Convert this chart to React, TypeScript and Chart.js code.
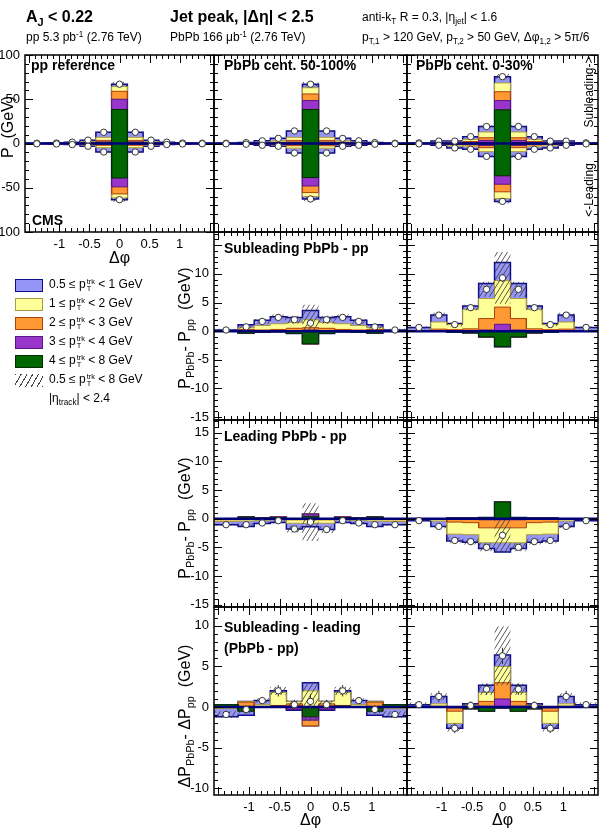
import React, { useEffect, useRef } from 'react';
import { Chart, registerables } from 'chart.js';
Chart.register(...registerables);

const FONT = '"Liberation Sans", Arial, Helvetica, sans-serif';

// Δφ binning (bin edges and centres)
const BIN_EDGES = [-1.5708, -1.1781, -0.9163, -0.6545, -0.3927, -0.1309, 0.1309, 0.3927, 0.6545, 0.9163, 1.1781, 1.5708];
const BIN_CENTERS = [-1.3744, -1.0472, -0.7854, -0.5236, -0.2618, 0, 0.2618, 0.5236, 0.7854, 1.0472, 1.3744];

const X_TICK_LABELS = [-1, -0.5, 0, 0.5, 1];
const Y_TICKS_TOP = [-100, -50, 0, 50, 100];
const Y_TICKS_SUB = [-15, -10, -5, 0, 5, 10];
const Y_TICKS_LEAD = [-15, -10, -5, 0, 5, 10, 15];
const Y_TICKS_DIFF = [-10, -5, 0, 5, 10];

// classes: 0.5-1, 1-2, 2-3, 3-4, 4-8 GeV
const CLASS_FILL = ['#9595f6', '#ffff99', '#ff9933', '#9a35cc', '#006600'];
const CLASS_LINE = ['#0c0c8c', '#a89a40', '#a8420c', '#561684', '#002c00'];

// ---- pp reference ----
const PP_SUB_05 = [0.2, 0.3, 0.8, 1.8, 5.7, 2.5, 5.7, 1.8, 0.8, 0.3, 0.2];
const PP_SUB_1 = [0.1, 0.1, 0.4, 1.0, 3.5, 5.5, 3.5, 1.0, 0.4, 0.1, 0.1];
const PP_SUB_2 = [0, 0.1, 0.2, 0.5, 1.7, 9, 1.7, 0.5, 0.2, 0.1, 0];
const PP_SUB_3 = [0, 0, 0.1, 0.3, 1.0, 11.5, 1.0, 0.3, 0.1, 0, 0];
const PP_SUB_4 = [0, 0, 0, 0.2, 0.8, 38.5, 0.8, 0.2, 0, 0, 0];
const PP_LEAD_05 = [-0.2, -0.3, -0.6, -1.4, -4.8, -2, -4.8, -1.4, -0.6, -0.3, -0.2];
const PP_LEAD_1 = [-0.1, -0.1, -0.3, -0.8, -2.8, -4.5, -2.8, -0.8, -0.3, -0.1, -0.1];
const PP_LEAD_2 = [0, -0.1, -0.2, -0.5, -1.2, -8, -1.2, -0.5, -0.2, -0.1, 0];
const PP_LEAD_3 = [0, 0, -0.1, -0.2, -0.5, -10, -0.5, -0.2, -0.1, 0, 0];
const PP_LEAD_4 = [0, 0, 0, -0.2, -0.3, -39, -0.3, -0.2, 0, 0, 0];
const PP_SUB_SYS = [0.1, 0.2, 0.3, 0.5, 1.0, 2.5, 1.0, 0.5, 0.3, 0.2, 0.1];
const PP_LEAD_SYS = [0.1, 0.2, 0.3, 0.5, 0.9, 2.2, 0.9, 0.5, 0.3, 0.2, 0.1];

// ---- PbPb 50-100% ----
const C50_SUB_05 = [0.2, 0.6, 1.6, 2.8, 7.2, 4, 7.2, 2.8, 1.6, 0.6, 0.2];
const C50_SUB_1 = [0.1, 0.3, 0.8, 1.6, 3.5, 7, 3.5, 1.6, 0.8, 0.3, 0.1];
const C50_SUB_2 = [0, 0.1, 0.4, 0.8, 2.0, 7.5, 2.0, 0.8, 0.4, 0.1, 0];
const C50_SUB_3 = [0, 0, 0.2, 0.4, 1.0, 10, 1.0, 0.4, 0.2, 0, 0];
const C50_SUB_4 = [0, 0, 0, 0.2, 0.5, 38.5, 0.5, 0.2, 0, 0, 0];
const C50_LEAD_05 = [-0.2, -0.5, -1.1, -1.5, -5.5, -2.7, -5.5, -1.5, -1.1, -0.5, -0.2];
const C50_LEAD_1 = [-0.1, -0.2, -0.5, -0.8, -2.8, -4.5, -2.8, -0.8, -0.5, -0.2, -0.1];
const C50_LEAD_2 = [0, -0.1, -0.3, -0.4, -1.5, -7.5, -1.5, -0.4, -0.3, -0.1, 0];
const C50_LEAD_3 = [0, 0, -0.1, -0.2, -0.7, -9.5, -0.7, -0.2, -0.1, 0, 0];
const C50_LEAD_4 = [0, 0, 0, -0.2, -0.3, -38.5, -0.3, -0.2, 0, 0, 0];
const C50_SUB_SYS = [0.1, 0.2, 0.3, 0.5, 1.0, 2.5, 1.0, 0.5, 0.3, 0.2, 0.1];
const C50_LEAD_SYS = [0.1, 0.2, 0.3, 0.5, 0.9, 2.2, 0.9, 0.5, 0.3, 0.2, 0.1];

// ---- PbPb 0-30% ----
const C0_SUB_05 = [0.4, 1.3, 1.2, 3.0, 6.2, 7, 6.2, 3.0, 1.2, 1.3, 0.4];
const C0_SUB_1 = [0.2, 0.9, 0.9, 2.5, 6.5, 10, 6.5, 2.5, 0.9, 0.9, 0.2];
const C0_SUB_2 = [0.1, 0.3, 0.4, 1.2, 3.0, 10, 3.0, 1.2, 0.4, 0.3, 0.1];
const C0_SUB_3 = [0, 0.1, 0.1, 0.7, 2.5, 10.5, 2.5, 0.7, 0.1, 0.1, 0];
const C0_SUB_4 = [0, 0.1, 0.1, 0.3, 1.0, 38, 1.0, 0.3, 0.1, 0.1, 0];
const C0_LEAD_05 = [-0.3, -1.0, -2.3, -2.7, -5.4, -3.1, -5.4, -2.7, -2.3, -1.0, -0.3];
const C0_LEAD_1 = [-0.1, -0.6, -1.6, -2.0, -4.5, -7.7, -4.5, -2.0, -1.6, -0.6, -0.1];
const C0_LEAD_2 = [0, -0.3, -0.7, -1.0, -2.5, -8.6, -2.5, -1.0, -0.7, -0.3, 0];
const C0_LEAD_3 = [0, -0.1, -0.3, -0.5, -1.5, -9.5, -1.5, -0.5, -0.3, -0.1, 0];
const C0_LEAD_4 = [0, 0, -0.1, -0.3, -0.7, -36.5, -0.7, -0.3, -0.1, 0, 0];
const C0_SUB_SYS = [0.1, 0.3, 0.3, 0.6, 1.2, 3.0, 1.2, 0.6, 0.3, 0.3, 0.1];
const C0_LEAD_SYS = [0.1, 0.2, 0.3, 0.5, 1.0, 2.5, 1.0, 0.5, 0.3, 0.2, 0.1];

// ---- Subleading PbPb - pp ----
const DS50_05 = [0.15, 0.5, 0.9, 1.2, 0.9, 1.6, 0.9, 1.2, 0.9, 0.5, 0.15];
const DS50_1 = [0.05, 0.3, 0.8, 1.0, 1.0, 1.4, 1.0, 1.0, 0.8, 0.3, 0.05];
const DS50_2 = [0, 0.3, 0.2, 0.2, 0.4, 0.4, 0.4, 0.2, 0.2, 0.3, 0];
const DS50_3 = [0, 0, 0, 0.1, 0.1, 0.2, 0.1, 0.1, 0, 0, 0];
const DS50_4 = [0, -0.35, -0.2, -0.1, -0.4, -2.2, -0.4, -0.1, -0.2, -0.35, 0];
const DS50_SYS = [0.2, 0.3, 0.4, 0.5, 0.7, 3.2, 0.7, 0.5, 0.4, 0.3, 0.2];
const DS50_ERR = [0.15, 0.25, 0.3, 0.3, 0.35, 0.5, 0.35, 0.3, 0.3, 0.25, 0.15];

const DS0_05 = [0.5, 1.2, 0.2, 0.6, 2.6, 3.2, 2.6, 0.6, 0.2, 1.2, 0.5];
const DS0_1 = [0.15, 1.25, 0.9, 3.4, 3.5, 4.6, 3.5, 3.4, 0.9, 1.25, 0.15];
const DS0_2 = [0, 0.25, 0.2, 0.3, 2.0, 3.0, 2.0, 0.3, 0.2, 0.25, 0];
const DS0_3 = [0, 0.1, 0.05, 0.1, 0.2, 1.2, 0.2, 0.1, 0.05, 0.1, 0];
const DS0_4 = [0, 0, -0.2, -0.3, -1.0, -2.7, -1.0, -0.3, -0.2, 0, 0];
const DS0_SYS = [0.2, 0.4, 0.3, 0.5, 1.3, 4.5, 1.3, 0.5, 0.3, 0.4, 0.2];
const DS0_ERR = [0.2, 0.35, 0.35, 0.4, 0.5, 0.7, 0.5, 0.4, 0.35, 0.35, 0.2];

// ---- Leading PbPb - pp ----
const DL50_05 = [-0.55, -0.95, -0.55, -0.45, -1.0, -0.6, -1.1, -0.45, -0.55, -0.95, -0.55];
const DL50_1 = [-0.3, -0.4, -0.2, -0.2, -0.6, -0.6, -0.6, -0.2, -0.2, -0.4, -0.3];
const DL50_2 = [-0.2, 0, -0.1, 0, -0.1, -0.2, -0.1, 0, -0.1, 0, -0.2];
const DL50_3 = [0, 0, 0, 0.1, -0.1, 0.4, -0.1, 0.1, 0, 0, 0];
const DL50_4 = [0, 0.3, 0.1, 0.2, 0, 0.4, 0, 0.2, 0.1, 0.3, 0];
const DL50_SYS = [0.2, 0.3, 0.2, 0.2, 0.6, 3.3, 0.6, 0.2, 0.2, 0.3, 0.2];
const DL50_ERR = [0.2, 0.25, 0.25, 0.25, 0.35, 0.5, 0.35, 0.25, 0.25, 0.25, 0.2];

const DL0_05 = [-0.25, -0.95, -1.2, -1.3, -1.0, -1.6, -1.0, -1.3, -1.2, -0.95, -0.25];
const DL0_1 = [-0.1, -0.3, -2.1, -2.1, -2.6, -2.6, -2.6, -2.1, -2.1, -0.3, -0.1];
const DL0_2 = [0, -0.1, -0.5, -0.6, -1.4, -1.4, -1.4, -0.6, -0.5, -0.1, 0];
const DL0_3 = [0, 0, -0.1, -0.1, -0.2, -0.2, -0.2, -0.1, -0.1, 0, 0];
const DL0_4 = [0, 0, 0.1, 0.1, 0.2, 2.9, 0.2, 0.1, 0.1, 0, 0];
const DL0_SYS = [0.1, 0.3, 0.5, 0.5, 0.7, 3.0, 0.7, 0.5, 0.5, 0.3, 0.1];
const DL0_ERR = [0.2, 0.3, 0.35, 0.4, 0.45, 0.6, 0.45, 0.4, 0.35, 0.3, 0.2];

// ---- Subleading - leading (PbPb - pp) ----
const DD50_05 = [-1.0, -0.5, 0.5, 0.2, -0.1, 1.0, -0.1, 0.2, 0.5, -0.5, -1.0];
const DD50_1 = [-0.2, 0.1, 0.3, 1.6, 0.3, 2.0, 0.3, 1.6, 0.3, 0.1, -0.2];
const DD50_2 = [0, 0.6, 0, 0.1, 0.3, -0.7, 0.3, 0.1, 0, 0.6, 0];
const DD50_3 = [0, 0, 0, 0, -0.3, -0.4, -0.3, 0, 0, 0, 0];
const DD50_4 = [0.3, -0.5, 0, 0.1, 0.1, -1.2, 0.1, 0.1, 0, -0.5, 0.3];
const DD50_SYS = [0.4, 0.5, 0.3, 0.5, 0.5, 2.4, 0.5, 0.5, 0.3, 0.5, 0.4];
const DD50_ERR = [0.4, 0.5, 0.4, 0.7, 0.6, 0.9, 0.6, 0.7, 0.4, 0.5, 0.4];

const DD0_05 = [0.3, 0.9, -0.6, 0.2, 0.9, 1.4, 0.9, 0.2, -0.6, 0.9, 0.3];
const DD0_1 = [0, 0.3, -1.5, 0.1, 1.1, 2.0, 1.1, 0.1, -1.5, 0.3, 0];
const DD0_2 = [0, 0.1, -0.4, 0.1, 0.6, 2.0, 0.6, 0.1, -0.4, 0.1, 0];
const DD0_3 = [0, 0, -0.1, 0, 0.1, 1.0, 0.1, 0, -0.1, 0, 0];
const DD0_4 = [0, 0, 0, -0.2, -0.5, -0.1, -0.5, -0.2, 0, 0, 0];
const DD0_SYS = [0.3, 0.4, 0.4, 0.3, 0.7, 3.6, 0.7, 0.3, 0.4, 0.4, 0.3];
const DD0_ERR = [0.4, 0.7, 0.6, 0.5, 0.7, 1.0, 0.7, 0.5, 0.6, 0.7, 0.4];

type Series = { classes: number[][]; sys: number[]; err?: number[] };
type Panel = {
  id: string; box: [number, number, number, number]; yMin: number; yMax: number;
  yTicks: number[]; yMajor: number; yMinor: number; showY: boolean; showX: boolean; series: Series[];
};

const ROW_SUB: [number, number] = [232, 420];
const ROW_LEAD: [number, number] = [420, 607];
const ROW_DIFF: [number, number] = [607, 795];
const COL1: [number, number] = [25, 214];
const COL2: [number, number] = [214, 407];
const COL3: [number, number] = [407, 598];

const PANELS: Panel[] = [
  { id: 'pp', box: [COL1[0], 55, COL1[1], 232], yMin: -100, yMax: 100, yTicks: Y_TICKS_TOP, yMajor: 50, yMinor: 10, showY: true, showX: true,
    series: [{ classes: [PP_SUB_05, PP_SUB_1, PP_SUB_2, PP_SUB_3, PP_SUB_4], sys: PP_SUB_SYS },
             { classes: [PP_LEAD_05, PP_LEAD_1, PP_LEAD_2, PP_LEAD_3, PP_LEAD_4], sys: PP_LEAD_SYS }] },
  { id: 'c50', box: [COL2[0], 55, COL2[1], 232], yMin: -100, yMax: 100, yTicks: Y_TICKS_TOP, yMajor: 50, yMinor: 10, showY: false, showX: false,
    series: [{ classes: [C50_SUB_05, C50_SUB_1, C50_SUB_2, C50_SUB_3, C50_SUB_4], sys: C50_SUB_SYS },
             { classes: [C50_LEAD_05, C50_LEAD_1, C50_LEAD_2, C50_LEAD_3, C50_LEAD_4], sys: C50_LEAD_SYS }] },
  { id: 'c0', box: [COL3[0], 55, COL3[1], 232], yMin: -100, yMax: 100, yTicks: Y_TICKS_TOP, yMajor: 50, yMinor: 10, showY: false, showX: false,
    series: [{ classes: [C0_SUB_05, C0_SUB_1, C0_SUB_2, C0_SUB_3, C0_SUB_4], sys: C0_SUB_SYS },
             { classes: [C0_LEAD_05, C0_LEAD_1, C0_LEAD_2, C0_LEAD_3, C0_LEAD_4], sys: C0_LEAD_SYS }] },
  { id: 'ds50', box: [COL2[0], ROW_SUB[0], COL2[1], ROW_SUB[1]], yMin: -15.5, yMax: 17.3, yTicks: Y_TICKS_SUB, yMajor: 5, yMinor: 1, showY: true, showX: false,
    series: [{ classes: [DS50_05, DS50_1, DS50_2, DS50_3, DS50_4], sys: DS50_SYS, err: DS50_ERR }] },
  { id: 'ds0', box: [COL3[0], ROW_SUB[0], COL3[1], ROW_SUB[1]], yMin: -15.5, yMax: 17.3, yTicks: Y_TICKS_SUB, yMajor: 5, yMinor: 1, showY: false, showX: false,
    series: [{ classes: [DS0_05, DS0_1, DS0_2, DS0_3, DS0_4], sys: DS0_SYS, err: DS0_ERR }] },
  { id: 'dl50', box: [COL2[0], ROW_LEAD[0], COL2[1], ROW_LEAD[1]], yMin: -15.4, yMax: 17.2, yTicks: Y_TICKS_LEAD, yMajor: 5, yMinor: 1, showY: true, showX: false,
    series: [{ classes: [DL50_05, DL50_1, DL50_2, DL50_3, DL50_4], sys: DL50_SYS, err: DL50_ERR }] },
  { id: 'dl0', box: [COL3[0], ROW_LEAD[0], COL3[1], ROW_LEAD[1]], yMin: -15.4, yMax: 17.2, yTicks: Y_TICKS_LEAD, yMajor: 5, yMinor: 1, showY: false, showX: false,
    series: [{ classes: [DL0_05, DL0_1, DL0_2, DL0_3, DL0_4], sys: DL0_SYS, err: DL0_ERR }] },
  { id: 'dd50', box: [COL2[0], ROW_DIFF[0], COL2[1], ROW_DIFF[1]], yMin: -10.8, yMax: 12.3, yTicks: Y_TICKS_DIFF, yMajor: 5, yMinor: 1, showY: true, showX: true,
    series: [{ classes: [DD50_05, DD50_1, DD50_2, DD50_3, DD50_4], sys: DD50_SYS, err: DD50_ERR }] },
  { id: 'dd0', box: [COL3[0], ROW_DIFF[0], COL3[1], ROW_DIFF[1]], yMin: -10.8, yMax: 12.3, yTicks: Y_TICKS_DIFF, yMajor: 5, yMinor: 1, showY: false, showX: true,
    series: [{ classes: [DD0_05, DD0_1, DD0_2, DD0_3, DD0_4], sys: DD0_SYS, err: DD0_ERR }] },
];

const W = 609, H = 830;
const Y_AXIS_W = { pp: 25, other: 40 } as any;
const X_AXIS_H = 24;

function stepPts(vals: number[]) {
  const pts: { x: number; y: number }[] = [];
  vals.forEach((v, i) => { pts.push({ x: BIN_EDGES[i], y: v }); pts.push({ x: BIN_EDGES[i + 1], y: v }); });
  return pts;
}

function makeHatch(): CanvasPattern | string {
  const c = document.createElement('canvas');
  c.width = 5; c.height = 8;
  const g = c.getContext('2d');
  if (!g) return 'rgba(0,0,0,0)';
  g.strokeStyle = 'rgba(60,60,60,0.85)';
  g.lineWidth = 1;
  g.beginPath();
  g.moveTo(0, 8); g.lineTo(5, 0);
  g.moveTo(-5, 8); g.lineTo(0, 0);
  g.moveTo(5, 8); g.lineTo(10, 0);
  g.stroke();
  return g.createPattern(c, 'repeat') || 'rgba(0,0,0,0)';
}

function frameTicks(p: Panel) {
  return {
    id: 'frameTicks_' + p.id,
    afterDraw(chart: any) {
      const { ctx, chartArea: a } = chart;
      const xs = chart.scales.x, ys = chart.scales.y;
      ctx.save();
      ctx.strokeStyle = '#000';
      ctx.lineWidth = 1;
      ctx.beginPath();
      for (let k = -15; k <= 15; k++) {
        const v = k / 10;
        const px = Math.round(xs.getPixelForValue(v)) + 0.5;
        const len = k % 5 === 0 ? 8 : 4;
        ctx.moveTo(px, a.bottom); ctx.lineTo(px, a.bottom - len);
        ctx.moveTo(px, a.top); ctx.lineTo(px, a.top + len);
      }
      const kmin = Math.ceil(p.yMin / p.yMinor), kmax = Math.floor(p.yMax / p.yMinor);
      for (let k = kmin; k <= kmax; k++) {
        const v = k * p.yMinor;
        const py = Math.round(ys.getPixelForValue(v)) + 0.5;
        const len = Math.abs(v % p.yMajor) < 1e-9 ? 8 : 4;
        ctx.moveTo(a.left, py); ctx.lineTo(a.left + len, py);
        ctx.moveTo(a.right, py); ctx.lineTo(a.right - len, py);
      }
      ctx.stroke();
      ctx.lineWidth = 1.5;
      ctx.strokeRect(a.left, a.top, a.right - a.left, a.bottom - a.top);
      ctx.restore();
    },
  };
}

function buildConfig(p: Panel, pattern: any) {
  const N = BIN_CENTERS.length;
  const totals = p.series.map((s) => BIN_CENTERS.map((_, i) => s.classes.reduce((acc, arr) => acc + arr[i], 0)));
  const posCum: number[][] = [], negCum: number[][] = [];
  const accP = new Array(N).fill(0), accN = new Array(N).fill(0);
  for (const k of [4, 3, 2, 1, 0]) {
    for (let i = 0; i < N; i++) {
      for (const s of p.series) {
        const v = s.classes[k][i];
        if (v > 0) accP[i] += v; else accN[i] += v;
      }
    }
    posCum[k] = accP.slice();
    negCum[k] = accN.slice();
  }
  const clear = 'rgba(0,0,0,0)';
  const datasets: any[] = [];
  datasets.push({
    data: p.series.flatMap((s, si) => BIN_CENTERS.map((c, i) => ({ x: c, y: totals[si][i] }))),
    showLine: false, pointRadius: 3.2, pointBackgroundColor: '#ffffff', pointBorderColor: '#333333', pointBorderWidth: 1, order: 1,
  });
  datasets.push({
    data: p.series.flatMap((s, si) => s.err ? BIN_CENTERS.flatMap((c, i) => [
      { x: c, y: totals[si][i] - (s.err as number[])[i] }, { x: c, y: totals[si][i] + (s.err as number[])[i] }, { x: c, y: null }]) : []),
    borderColor: '#333333', borderWidth: 1, pointRadius: 0, spanGaps: false, fill: false, order: 2,
  });
  datasets.push({
    data: [{ x: BIN_EDGES[0], y: 0 }, { x: BIN_EDGES[N], y: 0 }],
    borderColor: '#00007a', borderWidth: 2.5, pointRadius: 0, fill: false, order: 3,
  });
  p.series.forEach((s, si) => {
    const lowIdx = datasets.length;
    datasets.push({ data: stepPts(totals[si].map((t, i) => t - s.sys[i])), borderColor: clear, borderWidth: 1, pointRadius: 0, fill: false, order: 5 });
    datasets.push({ data: stepPts(totals[si].map((t, i) => t + s.sys[i])), borderColor: clear, borderWidth: 1, pointRadius: 0, fill: lowIdx, backgroundColor: pattern, order: 5 });
  });
  for (const k of [0, 1, 2, 3, 4]) {
    for (const cum of [posCum[k], negCum[k]]) {
      datasets.push({
        data: stepPts(cum), fill: 'origin', backgroundColor: CLASS_FILL[k], borderColor: CLASS_LINE[k],
        borderWidth: k === 0 ? 1.5 : 1, pointRadius: 0, order: 14 - k,
      });
    }
  }
  const yW = p.id === 'pp' ? Y_AXIS_W.pp : Y_AXIS_W.other;
  return {
    type: 'line',
    data: { datasets },
    options: {
      animation: false, responsive: false, devicePixelRatio: 1, events: [],
      elements: { line: { tension: 0 } },
      layout: { padding: {
        left: p.box[0] - (p.showY ? yW : 0), top: p.box[1], right: W - p.box[2],
        bottom: H - p.box[3] - (p.showX ? X_AXIS_H : 0) } },
      plugins: { legend: { display: false }, tooltip: { enabled: false } },
      scales: {
        x: {
          type: 'linear', min: BIN_EDGES[0], max: BIN_EDGES[N], display: p.showX,
          grid: { display: false, drawTicks: false }, border: { display: false },
          ticks: { autoSkip: false, maxRotation: 0, padding: 5, color: '#000', font: { family: FONT, size: 13 }, callback: (v: any) => String(v) },
          afterBuildTicks: (s: any) => { s.ticks = X_TICK_LABELS.map((v) => ({ value: v })); },
          afterFit: (s: any) => { if (p.showX) s.height = X_AXIS_H; },
        },
        y: {
          type: 'linear', min: p.yMin, max: p.yMax, display: p.showY, position: 'left',
          grid: { display: false, drawTicks: false }, border: { display: false },
          ticks: { autoSkip: false, padding: 5, color: '#000', font: { family: FONT, size: 13 }, callback: (v: any) => String(v) },
          afterBuildTicks: (s: any) => { s.ticks = p.yTicks.map((v) => ({ value: v })); },
          afterFit: (s: any) => { if (p.showY) s.width = yW; },
        },
      },
    },
    plugins: [frameTicks(p)],
  };
}

const Sub = ({ children }: any) => <span style={{ fontSize: '68%', verticalAlign: '-0.35em', lineHeight: 0 }}>{children}</span>;
const Sup = ({ children }: any) => <span style={{ fontSize: '68%', verticalAlign: '0.55em', lineHeight: 0 }}>{children}</span>;
const PtTrk = () => (
  <span>p<span style={{ display: 'inline-block', fontSize: '62%', lineHeight: '0.95em', verticalAlign: '-0.45em', marginLeft: 1 }}>
    <span style={{ display: 'block' }}>trk</span><span style={{ display: 'block' }}>T</span></span></span>
);

const abs = (left: number, top: number, extra: any = {}) => ({ position: 'absolute' as const, left, top, whiteSpace: 'nowrap' as const, lineHeight: 1, ...extra });
const rot = (cx: number, cy: number, size: number, extra: any = {}) => ({
  position: 'absolute' as const, left: cx, top: cy, transform: 'translate(-50%, -50%) rotate(-90deg)', whiteSpace: 'nowrap' as const,
  fontSize: size, lineHeight: 1, ...extra,
});
const center = (cx: number, cy: number, size: number) => ({
  position: 'absolute' as const, left: cx, top: cy, transform: 'translate(-50%, -50%)', whiteSpace: 'nowrap' as const, fontSize: size, lineHeight: 1,
});

const LEGEND_Y = [285, 304, 323, 342, 361];
const LEGEND_LO = ['0.5', '1', '2', '3', '4'];
const LEGEND_HI = ['1', '2', '3', '4', '8'];

export default function App() {
  const refs = useRef<(HTMLCanvasElement | null)[]>([]);
  useEffect(() => {
    const pattern = makeHatch();
    const charts = PANELS.map((p, i) => new Chart(refs.current[i] as HTMLCanvasElement, buildConfig(p, pattern) as any));
    return () => charts.forEach((c) => c.destroy());
  }, []);

  const bold = { fontWeight: 'bold' as const };
  return (
    <div style={{ position: 'absolute', left: 0, top: 0, width: W, height: H, background: '#fff', fontFamily: FONT, color: '#000', overflow: 'hidden' }}>
      {PANELS.map((p, i) => (
        <canvas key={p.id} ref={(el) => { refs.current[i] = el; }} width={W} height={H} style={{ position: 'absolute', left: 0, top: 0, width: W, height: H }} />
      ))}

      {/* header */}
      <div style={abs(26, 9, { fontSize: 16, ...bold })}>A<Sub>J</Sub> &lt; 0.22</div>
      <div style={abs(26, 31, { fontSize: 12 })}>pp 5.3 pb<Sup>-1</Sup> (2.76 TeV)</div>
      <div style={abs(170, 9, { fontSize: 16, ...bold })}>Jet peak, |Δη| &lt; 2.5</div>
      <div style={abs(170, 31, { fontSize: 12 })}>PbPb 166 μb<Sup>-1</Sup> (2.76 TeV)</div>
      <div style={abs(362, 11, { fontSize: 12 })}>anti-k<Sub>T</Sub> R = 0.3, |η<Sub>jet</Sub>| &lt; 1.6</div>
      <div style={abs(362, 31, { fontSize: 12 })}>p<Sub>T,1</Sub> &gt; 120 GeV, p<Sub>T,2</Sub> &gt; 50 GeV, Δφ<Sub>1,2</Sub> &gt; 5π/6</div>

      {/* panel labels */}
      <div style={abs(31, 58, { fontSize: 14, ...bold })}>pp reference</div>
      <div style={abs(224, 58, { fontSize: 14, ...bold })}>PbPb cent. 50-100%</div>
      <div style={abs(416, 58, { fontSize: 14, ...bold })}>PbPb cent. 0-30%</div>
      <div style={abs(32, 213, { fontSize: 14, ...bold })}>CMS</div>
      <div style={rot(589, 92, 12)}>Subleading-&gt;</div>
      <div style={rot(589, 190, 12)}>&lt;-Leading</div>
      <div style={abs(224, 241, { fontSize: 14, ...bold })}>Subleading PbPb - pp</div>
      <div style={abs(224, 429, { fontSize: 14, ...bold })}>Leading PbPb - pp</div>
      <div style={abs(224, 620, { fontSize: 14, ...bold })}>Subleading - leading</div>
      <div style={abs(224, 641, { fontSize: 14, ...bold })}>(PbPb - pp)</div>

      {/* axis titles */}
      <div style={rot(8, 127, 16)}>P{'\u00a0\u00a0'}(GeV)</div>
      <div style={rot(185, 328, 16)}>P<Sub>PbPb</Sub>- P<Sub>pp</Sub>{'\u00a0\u00a0'}(GeV)</div>
      <div style={rot(185, 518, 16)}>P<Sub>PbPb</Sub>- P<Sub>pp</Sub>{'\u00a0\u00a0'}(GeV)</div>
      <div style={rot(185, 716, 16)}>ΔP<Sub>PbPb</Sub>- ΔP<Sub>pp</Sub>{'\u00a0\u00a0'}(GeV)</div>
      <div style={center((COL1[0] + COL1[1]) / 2, 258, 16)}>Δφ</div>
      <div style={center((COL2[0] + COL2[1]) / 2, 820, 16)}>Δφ</div>
      <div style={center((COL3[0] + COL3[1]) / 2, 820, 16)}>Δφ</div>

      {/* legend */}
      {LEGEND_Y.map((cy, k) => (
        <React.Fragment key={k}>
          <div style={{ position: 'absolute', left: 15, top: cy - 6.5, width: 28, height: 13, boxSizing: 'border-box', background: CLASS_FILL[k], border: `1px solid ${CLASS_LINE[k]}` }} />
          <div style={abs(49, cy - 7, { fontSize: 12 })}>{LEGEND_LO[k]} ≤ <PtTrk /> &lt; {LEGEND_HI[k]} GeV</div>
        </React.Fragment>
      ))}
      <div style={{ position: 'absolute', left: 15, top: 380 - 6.5, width: 28, height: 13, background: 'repeating-linear-gradient(120deg, #444 0px, #444 1px, transparent 1px, transparent 5px)' }} />
      <div style={abs(49, 380 - 7, { fontSize: 12 })}>0.5 ≤ <PtTrk /> &lt; 8 GeV</div>
      <div style={abs(49, 399 - 7, { fontSize: 12 })}>|η<Sub>track</Sub>| &lt; 2.4</div>
    </div>
  );
}
